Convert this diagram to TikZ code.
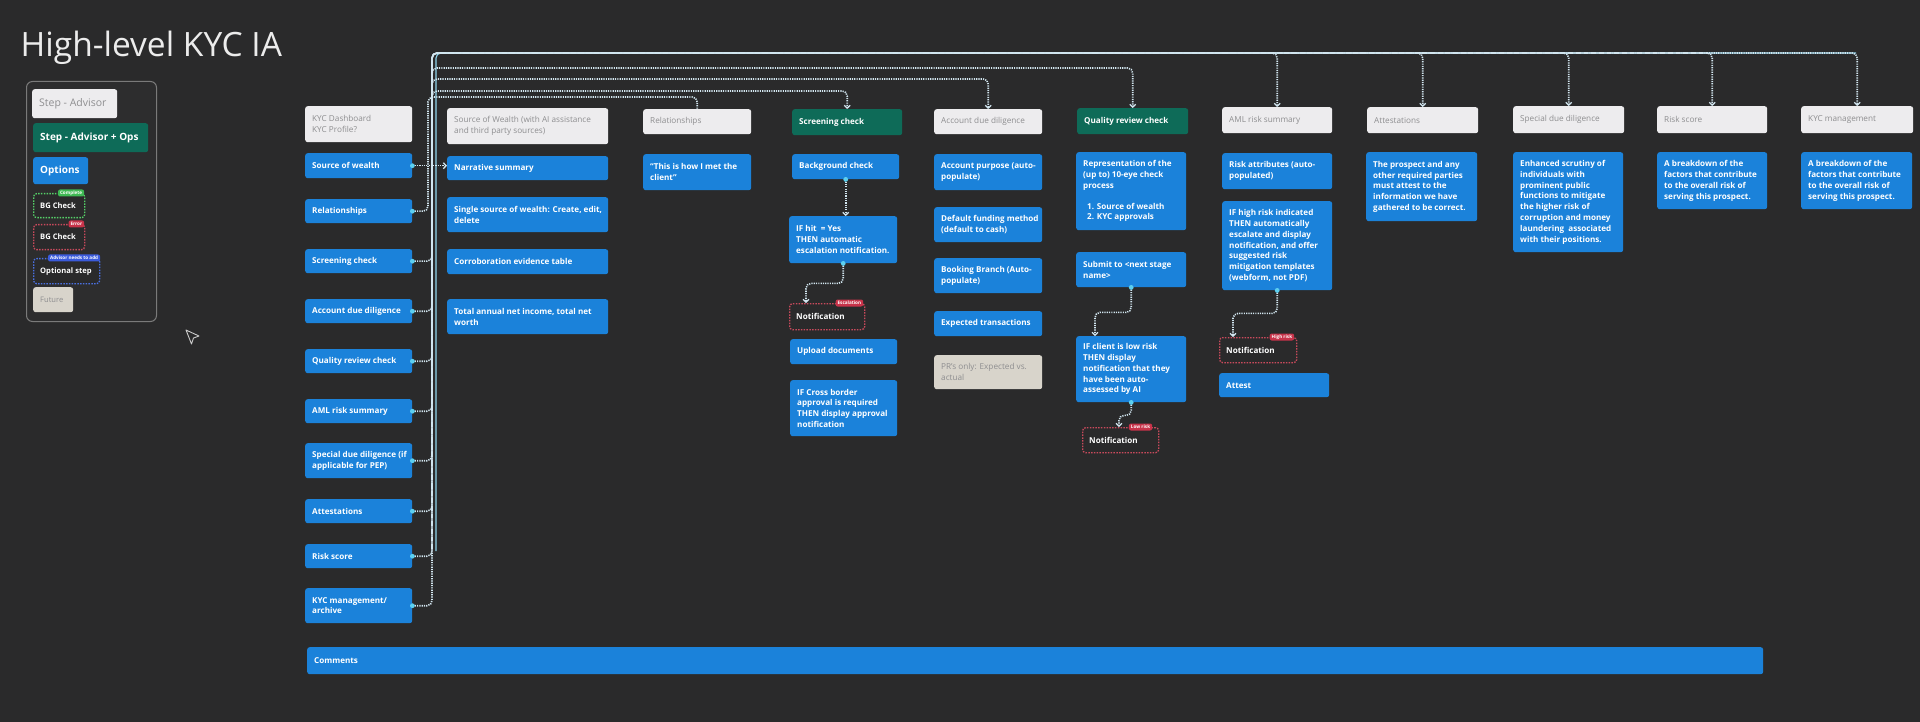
\documentclass[tikz,border=0pt]{standalone}
\usepackage{fontspec}
\setmainfont{Open Sans}
\usetikzlibrary{arrows.meta,calc}
\definecolor{bg}{HTML}{2A2A2B}
\definecolor{legfill}{HTML}{2D2D2E}
\definecolor{blu}{HTML}{1B82DA}
\definecolor{grn}{HTML}{0E6B58}
\definecolor{hdr}{HTML}{EDECEE}
\definecolor{hdrtxt}{HTML}{8E8E90}
\definecolor{beige}{HTML}{D8D4CB}
\definecolor{conc}{HTML}{D2E6F0}
\definecolor{dotc}{HTML}{5CCFEF}
\definecolor{hlc}{HTML}{8ED3EC}
\definecolor{redd}{HTML}{C94A5C}
\definecolor{redtag}{HTML}{C8334A}
\definecolor{grnd}{HTML}{55D068}
\definecolor{grntag}{HTML}{3FB954}
\definecolor{blud}{HTML}{4A70E0}
\definecolor{blutag}{HTML}{3B5BDB}
\definecolor{legbd}{HTML}{7A7A7A}
\definecolor{titlec}{HTML}{ECECEC}
\tikzset{
  bb/.style={fill=blu, rounded corners=2.5pt, inner sep=0pt},
  hb/.style={fill=hdr, rounded corners=2.5pt, inner sep=0pt},
  gb/.style={fill=grn, rounded corners=2.5pt, inner sep=0pt},
  fb/.style={fill=beige, rounded corners=2.5pt, inner sep=0pt},
  nb/.style={draw=redd, fill=bg, line width=1.3pt, dash pattern=on 1.5pt off 1.3pt, rounded corners=3pt, inner sep=0pt},
  gdash/.style={draw=grnd, fill=bg, line width=1.3pt, dash pattern=on 1.5pt off 1.3pt, rounded corners=3pt, inner sep=0pt},
  rdash/.style={draw=redd, fill=bg, line width=1.3pt, dash pattern=on 1.5pt off 1.3pt, rounded corners=3pt, inner sep=0pt},
  bdash/.style={draw=blud, fill=bg, line width=1.3pt, dash pattern=on 1.5pt off 1.3pt, rounded corners=3pt, inner sep=0pt},
  wt/.style={inner sep=0pt, text=white, font=\fontsize{8.1}{10.8}\selectfont\bfseries},
  gt/.style={inner sep=0pt, text=hdrtxt, font=\fontsize{8.2}{11}\selectfont},
  lgt/.style={inner sep=0pt, text=hdrtxt, font=\fontsize{10.5}{12}\selectfont},
  lwt/.style={inner sep=0pt, text=white, font=\fontsize{10}{12}\selectfont\bfseries},
  st/.style={inner sep=0pt, text=white, font=\fontsize{7.6}{9}\selectfont\bfseries},
  sgt/.style={inner sep=0pt, text=hdrtxt, font=\fontsize{7.6}{9}\selectfont},
  conn/.style={draw=conc, line width=1.6pt, dash pattern=on 1.2pt off 1.1pt, rounded corners=5pt},
  arr/.style={-{Straight Barb[length=2.8pt,width=6pt,line width=1.3pt]}},
  hl/.style={draw=hlc, line width=1.1pt, rounded corners=5pt},
  tagn/.style={text=white, rounded corners=2pt, inner xsep=2pt, inner ysep=0pt, minimum height=7pt, font=\fontsize{4.6}{5}\selectfont\bfseries, anchor=east},
}
% style, textstyle, name, x, y, w, h, text
\newcommand{\mkbox}[8]{%
  \node[#1, minimum width=#6pt, minimum height=#7pt, anchor=north west] (#3) at (#4,#5) {};
  \node[#2, anchor=west, align=left] (#3t) at ([xshift=7pt]#3.west) {#8};
}
\begin{document}
\begin{tikzpicture}[x=1pt,y=-1pt]
\fill[bg] (0,0) rectangle (1920,722);
\useasboundingbox (0,0) rectangle (1920,722);

% title
\node[anchor=base west, inner sep=0pt, text=titlec, font=\fontsize{33.5}{38}\selectfont] (title) at (20.5,57) {High-level KYC IA};

% legend
\node[draw=legbd, fill=legfill, line width=1pt, rounded corners=6pt, minimum width=130pt, minimum height=240pt, anchor=north west, inner sep=0pt] (leg) at (26,81) {};
\mkbox{hb}{lgt}{lg1}{32}{89}{85}{29}{Step - Advisor}
\mkbox{gb}{lwt}{lg2}{33}{123}{115}{29}{Step - Advisor + Ops}
\mkbox{bb}{lwt}{lg3}{33}{157}{55}{27}{Options}
\mkbox{gdash}{st}{lg4}{33}{193}{51}{24}{BG Check}
\mkbox{rdash}{st}{lg5}{33}{224}{51}{25}{BG Check}
\mkbox{bdash}{st}{lg6}{33}{258}{66}{25}{Optional step}
\mkbox{fb}{sgt}{lg7}{33}{287}{40}{25}{Future}
\node[tagn, fill=grntag] (tg4) at ([xshift=-1pt]lg4.north east) {Complete};
\node[tagn, fill=redtag] (tg5) at ([xshift=-1pt]lg5.north east) {Error};
\node[tagn, fill=blutag] (tg6) at ([xshift=0pt]lg6.north east) {Advisor needs to add};

% cursor
\draw[white!80!black, line width=0.9pt, fill=bg, line join=round] (186,330) -- (199,336) -- (193.5,338) -- (191.5,344) -- cycle;

% left column
\mkbox{hb}{gt}{kd}{305}{106}{107}{36}{KYC Dashboard\\KYC Profile?}
\mkbox{bb}{wt}{l1}{305}{153}{107}{25}{Source of wealth}
\mkbox{bb}{wt}{l2}{305}{199}{107}{24}{Relationships}
\mkbox{bb}{wt}{l3}{305}{249}{107}{24}{Screening check}
\mkbox{bb}{wt}{l4}{305}{299}{107}{24}{Account due diligence}
\mkbox{bb}{wt}{l5}{305}{349}{107}{24}{Quality review check}
\mkbox{bb}{wt}{l6}{305}{399}{107}{24}{AML risk summary}
\mkbox{bb}{wt}{l7}{305}{443}{107}{35}{Special due diligence (if\\applicable for PEP)}
\mkbox{bb}{wt}{l8}{305}{499}{107}{24}{Attestations}
\mkbox{bb}{wt}{l9}{305}{544}{107}{24}{Risk score}
\mkbox{bb}{wt}{l10}{305}{588}{107}{35}{KYC management/\\archive}

% source of wealth column
\mkbox{hb}{gt}{h1}{447}{108}{161}{36}{Source of Wealth (with AI assistance\\and third party sources)}
\mkbox{bb}{wt}{s1}{447}{156}{161}{24}{Narrative summary}
\mkbox{bb}{wt}{s2}{447}{197}{161}{35}{Single source of wealth: Create, edit,\\delete}
\mkbox{bb}{wt}{s3}{447}{249}{161}{25}{Corroboration evidence table}
\mkbox{bb}{wt}{s4}{447}{299}{161}{35}{Total annual net income, total net\\worth}

% relationships column
\mkbox{hb}{gt}{h2}{643}{109}{108}{25}{Relationships}
\mkbox{bb}{wt}{r1}{643}{154}{108}{36}{“This is how I met the\\client”}

% screening column
\mkbox{gb}{wt}{h3}{792}{109}{110}{26}{Screening check}
\mkbox{bb}{wt}{c1}{792}{154}{107}{25}{Background check}
\mkbox{bb}{wt}{c2}{789}{216}{108}{47}{IF hit~ = Yes\\THEN automatic\\escalation notification.}
\mkbox{nb}{wt}{c3}{789}{303}{75}{26}{Notification}
\mkbox{bb}{wt}{c4}{790}{339}{107}{25}{Upload documents}
\mkbox{bb}{wt}{c5}{790}{380}{107}{56}{IF Cross border\\approval is required\\THEN display approval\\notification}
\node[tagn, fill=redtag] (tc3) at ([xshift=-2pt]c3.north east) {Escalation};

% account due diligence column
\mkbox{hb}{gt}{h4}{934}{109}{108}{25}{Account due diligence}
\mkbox{bb}{wt}{a1}{934}{154}{108}{36}{Account purpose (auto-\\populate)}
\mkbox{bb}{wt}{a2}{934}{207}{108}{35}{Default funding method\\(default to cash)}
\mkbox{bb}{wt}{a3}{934}{258}{108}{35}{Booking Branch (Auto-\\populate)}
\mkbox{bb}{wt}{a4}{934}{311}{108}{25}{Expected transactions}
\mkbox{fb}{gt}{a5}{934}{355}{108}{34}{PR’s only: Expected vs.\\actual}

% quality review column
\mkbox{gb}{wt}{h5}{1077}{108}{111}{26}{Quality review check}
\mkbox{bb}{wt}{q1}{1076}{152}{110}{78}{Representation of the\\(up to) 10-eye check\\process\\[10pt]\hspace*{4pt}1. Source of wealth\\\hspace*{4pt}2. KYC approvals}
\mkbox{bb}{wt}{q2}{1076}{252}{110}{35}{Submit to <next stage\\name>}
\mkbox{bb}{wt}{q3}{1076}{336}{110}{66}{IF client is low risk\\THEN display\\notification that they\\have been auto-\\assessed by AI}
\mkbox{nb}{wt}{q4}{1082}{427}{76}{25}{Notification}
\node[tagn, fill=redtag] (tq4) at ([xshift=-7pt]q4.north east) {Low risk};

% AML column
\mkbox{hb}{gt}{h6}{1222}{107}{110}{26}{AML risk summary}
\mkbox{bb}{wt}{m1}{1222}{153}{110}{36}{Risk attributes (auto-\\populated)}
\mkbox{bb}{wt}{m2}{1222}{201}{110}{89}{IF high risk indicated\\THEN automatically\\escalate and display\\notification, and offer\\suggested risk\\mitigation templates\\(webform, not PDF)}
\mkbox{nb}{wt}{m3}{1219}{337}{77}{25}{Notification}
\mkbox{bb}{wt}{m4}{1219}{373}{110}{24}{Attest}
\node[tagn, fill=redtag] (tm3) at ([xshift=-3pt]m3.north east) {High risk};

% attestations column
\mkbox{hb}{gt}{h7}{1367}{107}{111}{26}{Attestations}
\mkbox{bb}{wt}{t1}{1366}{152}{111}{69}{The prospect and any\\other required parties\\must attest to the\\information we have\\gathered to be correct.}

% special due diligence column
\mkbox{hb}{gt}{h8}{1513}{106}{111}{27}{Special due diligence}
\mkbox{bb}{wt}{d1}{1513}{152}{110}{100}{Enhanced scrutiny of\\individuals with\\prominent public\\functions to mitigate\\the higher risk of\\corruption and money\\laundering~ associated\\with their positions.}

% risk score column
\mkbox{hb}{gt}{h9}{1657}{106}{110}{27}{Risk score}
\mkbox{bb}{wt}{k1}{1657}{152}{110}{57}{A breakdown of the\\factors that contribute\\to the overall risk of\\serving this prospect.}

% KYC management column
\mkbox{hb}{gt}{h10}{1801}{106}{112}{27}{KYC management}
\mkbox{bb}{wt}{g1}{1801}{152}{111}{57}{A breakdown of the\\factors that contribute\\to the overall risk of\\serving this prospect.}

% comments bar
\mkbox{bb}{wt}{cm}{307}{647}{1456}{27}{Comments}

% trunk coordinates
\coordinate (T1) at (432,53);
\coordinate (T2) at (432,68);
\coordinate (T3) at (432,79);
\coordinate (T4) at (432,91);
\coordinate (T5) at (428,97);
\coordinate (S0) at (436,551);
\coordinate (S1) at (1856,53);

% highlighted solid line
\draw[hl] (S0) |- (S1);

% left column connectors
\draw[conn,arr] (l1.east) -- (l1.east -| s1.west);
\draw[conn] (l2.east) -| (T5) -| (h2.north);
\draw[conn,arr] (l3.east) -| (T4) -| (h3.north);
\draw[conn,arr] (l4.east) -| (T3) -| (h4.north);
\draw[conn,arr] (l5.east) -| (T2) -| (h5.north);
\draw[conn,arr] (l6.east) -| (T1) -| (h6.north);
\draw[conn,arr] (l7.east) -| (T1) -| (h8.north);
\draw[conn,arr] (l8.east) -| (T1) -| (h7.north);
\draw[conn,arr] (l9.east) -| (T1) -| (h9.north);
\draw[conn,arr] (l10.east) -| (T1) -| (h10.north);

% in-column connectors
\draw[conn,arr] (c1.south) -- (c1.south |- c2.north);
\draw[conn,arr] (c2.south) -- ++(0,20) -| ([xshift=17pt]c3.north west);
\draw[conn,arr] (q2.south) -- ++(0,25) -| ([xshift=19pt]q3.north west);
\draw[conn,arr] (q3.south) -- ++(0,13) -| ([xshift=37pt]q4.north west);
\draw[conn,arr] (m2.south) -- ++(0,23) -| ([xshift=14pt]m3.north west);

% connector dots
\foreach \n in {l1,l2,l3,l4,l5,l6,l7,l8,l9,l10} \fill[dotc] (\n.east) circle (2.4pt);
\foreach \n in {c1,c2,q2,q3,m2} \fill[dotc] (\n.south) circle (2.4pt);
\end{tikzpicture}
\end{document}
